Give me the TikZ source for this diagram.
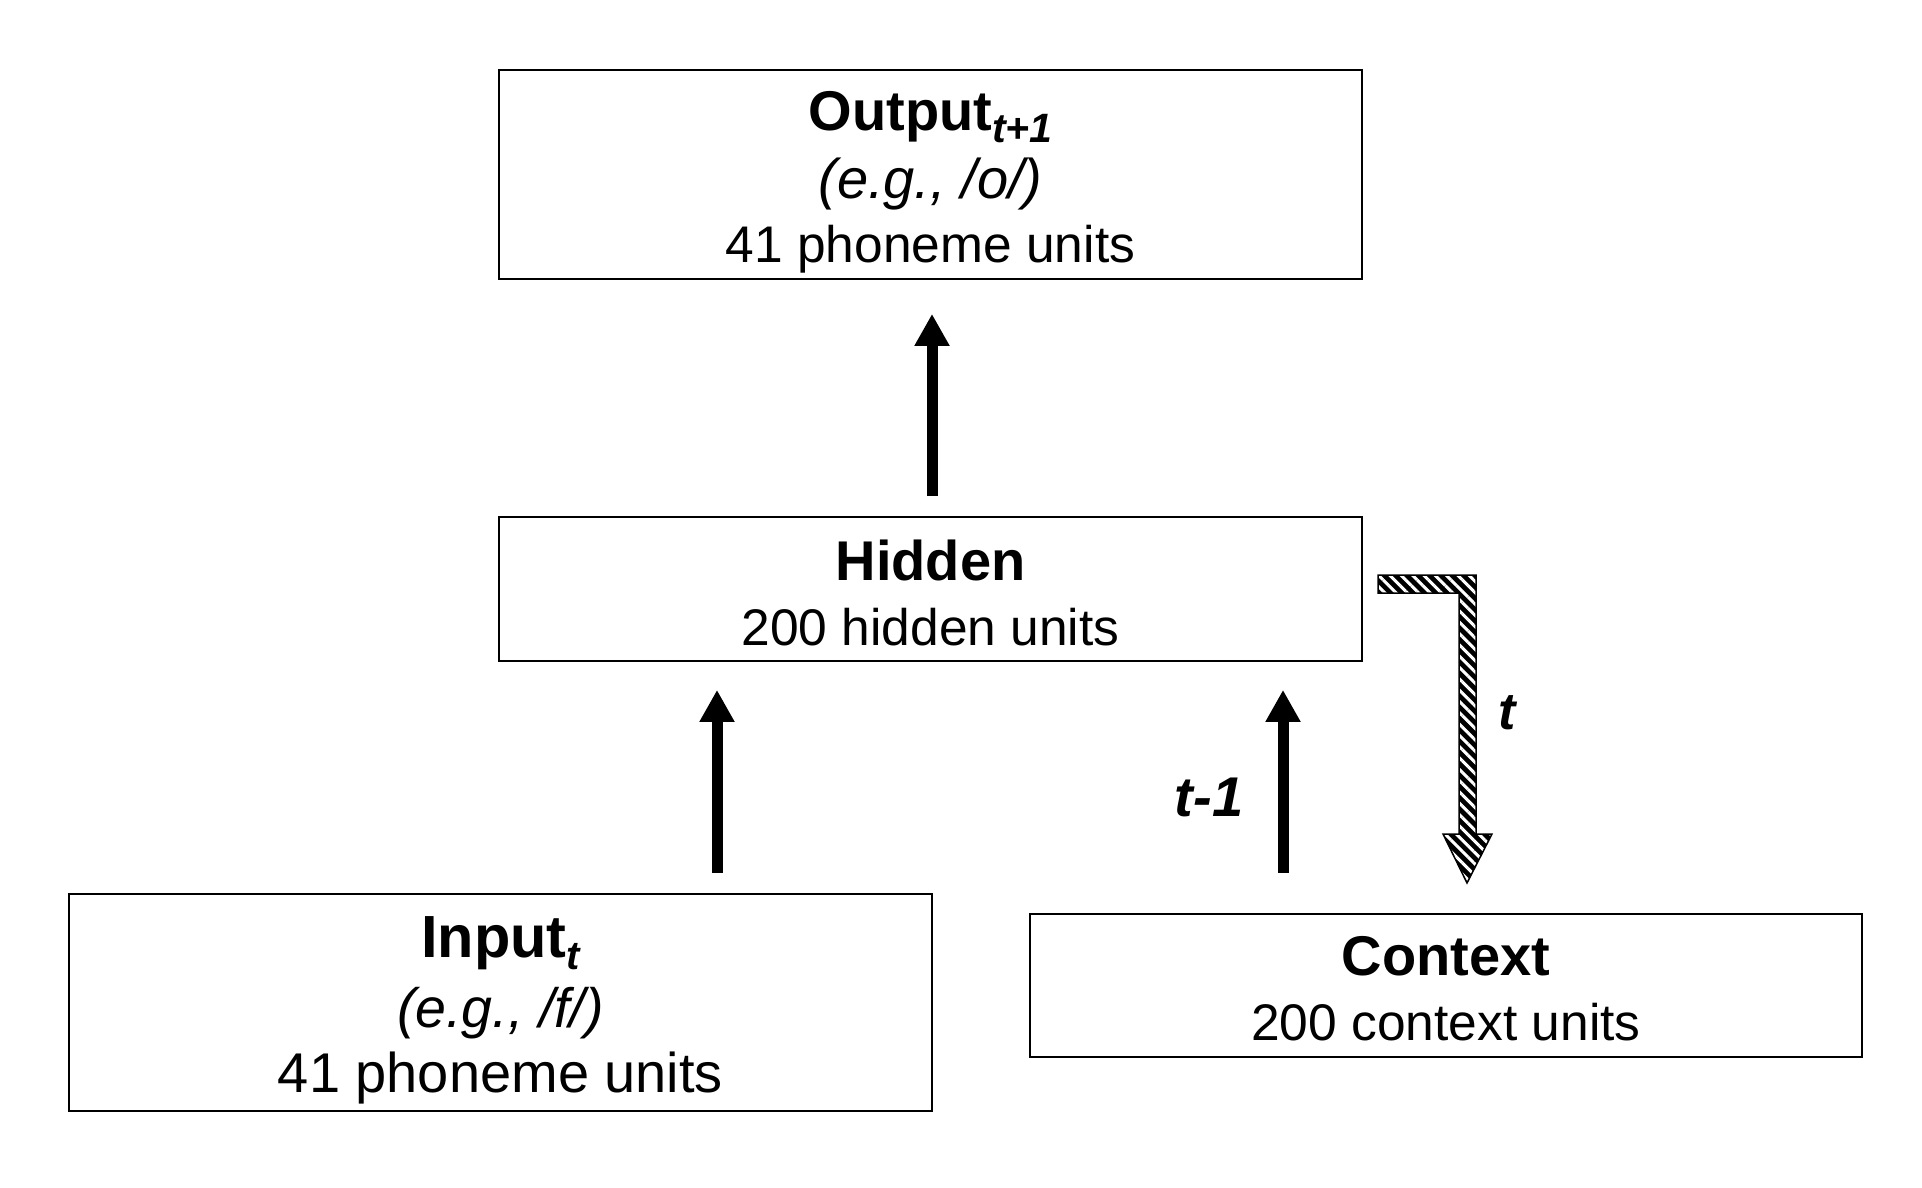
\documentclass[tikz,border=0pt]{standalone}
\usepackage{fontspec}
\setmainfont{Liberation Sans}
\usetikzlibrary{arrows.meta,patterns.meta,calc}
\newcommand{\sbs}[2]{\raisebox{-12pt}{\fontsize{#1}{#1}\selectfont\bfseries\itshape #2}}
\newcommand{\fsz}[1]{\fontsize{#1}{#1}\selectfont}
\tikzset{
  layerbox/.style={draw=black, line width=1.8pt, inner sep=0pt},
  layertext/.style={inner sep=0pt, align=center, font=\fontsize{51.5}{65}\selectfont},
  uparrow/.style={line width=11pt, -{Triangle[width=33pt,length=32pt]}},
  timelabel/.style={font=\fontsize{52}{52}\selectfont\bfseries\itshape, inner sep=0pt},
}
\begin{document}
\begin{tikzpicture}[x=1pt,y=-1pt]
\useasboundingbox (0,0) rectangle (1922,1188);
% boxes
\node[layerbox, minimum width=863pt, minimum height=209pt] (output) at (930.5,174.5) {};
\node[layerbox, minimum width=863pt, minimum height=144pt] (hidden) at (930.5,589) {};
\node[layerbox, minimum width=863pt, minimum height=217pt] (input) at (500.5,1002.5) {};
\node[layerbox, minimum width=832pt, minimum height=143pt] (context) at (1446,985.5) {};
% texts
\node[layertext, font=\fontsize{51.5}{64}\selectfont] (outputtext) at ($(output.center)+(0,8)$)
  {{\fsz{56}\textbf{Output}\sbs{41}{t+1}}\\[4.5pt] {\fsz{56}\itshape (e.g., /o/)}\\ 41 phoneme units};
\node[layertext] (hiddentext) at ($(hidden.center)+(0,3.5)$)
  {{\fsz{56}\textbf{Hidden}}\\ 200 hidden units};
\node[layertext, font=\fontsize{56}{65}\selectfont] (inputtext) at ($(input.center)+(0,8)$)
  {{\fsz{59.5}\textbf{Input}\sbs{40}{t}}\\[5pt] {\fsz{55.5}\itshape (e.g., /f/)}\\ 41 phoneme units};
\node[layertext] (contexttext) at ($(context.center)+(0,3.5)$)
  {{\fsz{56}\textbf{Context}}\\ 200 context units};
% arrows
\coordinate (a0) at (932,496);
\draw[uparrow, shorten >=34pt] (a0) -- (a0 |- output.south);
\coordinate (a1) at (717,873);
\draw[uparrow, shorten >=28pt] (a1) -- (a1 |- hidden.south);
\coordinate (a2) at (1283,873);
\draw[uparrow, shorten >=28pt] (a2) -- (a2 |- hidden.south);
\node[timelabel, font=\fontsize{56}{56}\selectfont\bfseries\itshape] (tm1) at (1209,797) {t-1};
% hatched copy arrow
\path[fill=black] (1378,575) -- (1476,575) -- (1476,834) -- (1492,834) -- (1467,883)
  -- (1443,834) -- (1459,834) -- (1459,593) -- (1378,593) -- cycle;
\path[pattern={Lines[angle=-45,distance=8pt,line width=3pt]}, pattern color=white]
  (1378,575) -- (1476,575) -- (1476,834) -- (1492,834) -- (1467,883)
  -- (1443,834) -- (1459,834) -- (1459,593) -- (1378,593) -- cycle;
\draw[line width=1.5pt, line join=miter] (1378,575) -- (1476,575) -- (1476,834) -- (1492,834) -- (1467,883)
  -- (1443,834) -- (1459,834) -- (1459,593) -- (1378,593) -- cycle;
\node[timelabel] (tt) at (1507,713) {t};
\end{tikzpicture}
\end{document}
